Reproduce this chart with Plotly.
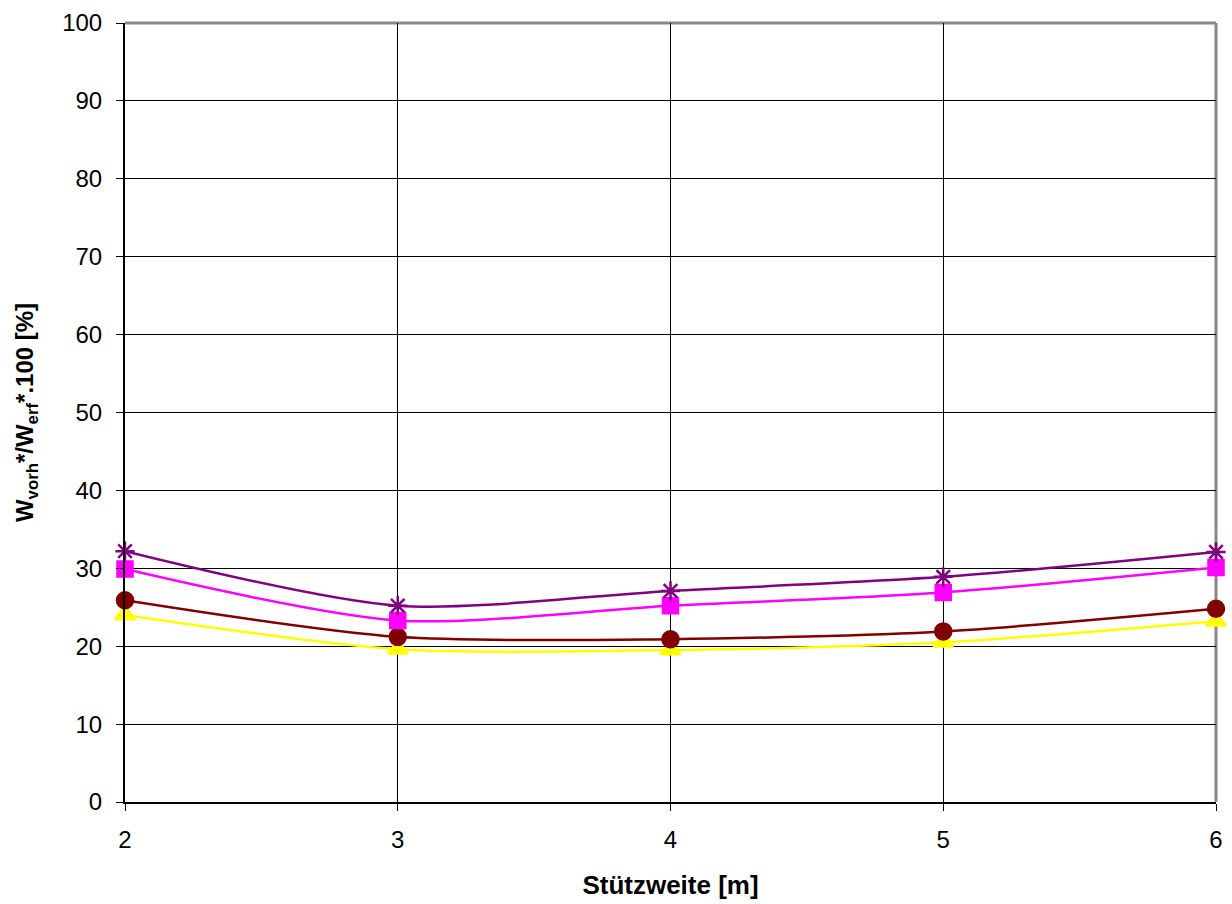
import plotly.graph_objects as go

x_span = [2, 3, 4, 5, 6]
series_purple = [32.2, 25.2, 27.1, 28.9, 32.1]
series_magenta = [29.9, 23.3, 25.2, 26.9, 30.1]
series_darkred = [25.9, 21.2, 20.9, 21.9, 24.8]
series_yellow = [24.0, 19.6, 19.5, 20.5, 23.2]

fig = go.Figure()
specs = [
    (series_yellow, "#FFFF00", "triangle-up", 17),
    (series_darkred, "#800000", "circle", 16),
    (series_magenta, "#FF00FF", "square", 15),
    (series_purple, "#800080", "asterisk-open", 16),
]
for ys, col, sym, sz in specs:
    fig.add_trace(go.Scatter(
        x=x_span, y=ys, mode="lines+markers",
        line=dict(color=col, width=2.5, shape="spline", smoothing=0.8),
        marker=dict(color=col, symbol=sym, size=sz, line=dict(color=col, width=2.5)),
        cliponaxis=False, showlegend=False,
    ))

fig.add_shape(type="line", xref="paper", yref="paper", x0=0, x1=1, y0=1, y1=1,
              line=dict(color="#888888", width=3), layer="below")
fig.add_shape(type="line", xref="paper", yref="paper", x0=1, x1=1, y0=0, y1=1,
              line=dict(color="#888888", width=3), layer="below")

fig.update_layout(
    width=1232, height=904,
    margin=dict(l=125, r=9, t=20, b=101),
    paper_bgcolor="white", plot_bgcolor="white",
    font=dict(family="Liberation Sans, Arial, sans-serif", color="black", size=24),
)
fig.update_xaxes(
    range=[2, 6], tickvals=x_span, ticks="outside", ticklen=7, tickcolor="black",
    showgrid=True, gridcolor="black", gridwidth=1, zeroline=False,
    showline=True, linecolor="black", linewidth=2,
    tickfont=dict(size=24), ticklabelstandoff=8,
    title=dict(text="<b>Stützweite [m]</b>", font=dict(size=26), standoff=24),
)
fig.update_yaxes(
    range=[0, 100], dtick=10, ticks="outside", ticklen=7, tickcolor="black",
    showgrid=True, gridcolor="black", gridwidth=1, zeroline=False,
    showline=True, linecolor="black", linewidth=2,
    tickfont=dict(size=24), ticklabelstandoff=9,
    title=dict(text="<b>W<sub>vorh</sub>*/W<sub>erf</sub>*.100 [%]</b>", font=dict(size=24), standoff=22),
)
fig.write_html(
    "out.html", config={"displayModeBar": False},
    post_script=(
        "document.documentElement.style.margin='0';"
        "document.documentElement.style.overflow='hidden';"
        "document.body.style.margin='0';"
        "document.body.style.overflow='hidden';"
        "document.body.style.width='1232px';document.body.style.height='904px';"
        "document.querySelectorAll('svg').forEach(function(s){s.style.overflow='hidden';});"
    ),
)
